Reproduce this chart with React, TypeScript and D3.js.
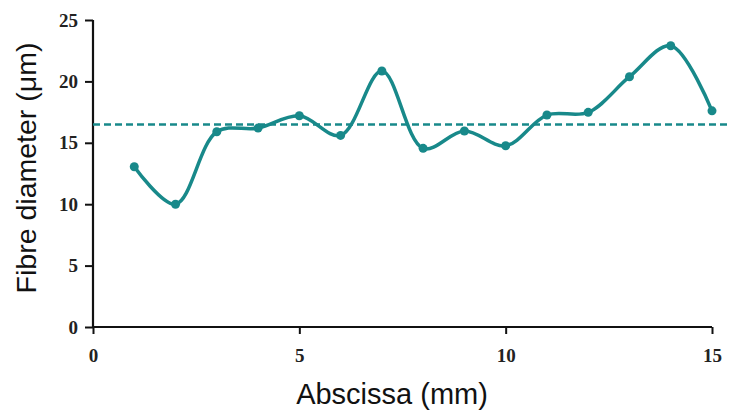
import React, { useEffect, useRef } from "react";
import * as d3 from "d3";

const xValues = [1, 2, 3, 4, 5, 6, 7, 8, 9, 10, 11, 12, 13, 14, 15];
const diameters = [13.05, 10.0, 15.9, 16.2, 17.2, 15.6, 20.85, 14.55, 15.96, 14.76, 17.26, 17.48, 20.38, 22.9, 17.6];
const meanValue = 16.5;
const xTicks = [0, 5, 10, 15];
const yTicks = [0, 5, 10, 15, 20, 25];

const W = 729;
const H = 412;
const COLOR = "#18898a";

export default function App() {
  const ref = useRef<SVGSVGElement>(null);
  useEffect(() => {
    const svg = d3.select(ref.current);
    svg.selectAll("*").remove();
    const x = d3.scaleLinear().domain([0, 15]).range([93, 712]);
    const y = d3.scaleLinear().domain([0, 25]).range([327, 20]);

    const gx = svg.append("g").attr("transform", `translate(0,${y(0)})`);
    gx.call(d3.axisBottom(x).tickValues(xTicks).tickSize(7).tickPadding(15).tickFormat(d3.format("d")) as any);
    const gy = svg.append("g").attr("transform", `translate(${x(0)},0)`);
    gy.call(d3.axisLeft(y).tickValues(yTicks).tickSize(8).tickPadding(7).tickFormat(d3.format("d")) as any);
    [gx, gy].forEach((g) => {
      g.select(".domain").attr("stroke", "#111").attr("stroke-width", 2.2).attr("d", (g === gx ? `M${x(0)},0H${x(15)}` : `M0,${y(0)}V${y(25)}`));
      g.selectAll(".tick line").attr("stroke", "#111").attr("stroke-width", 2);
      g.selectAll(".tick text")
        .attr("fill", "#222")
        .style("font-family", "'Liberation Serif', 'DejaVu Serif', serif")
        .style("font-weight", "bold")
        .style("font-size", "19px");
    });

    svg.append("line")
      .attr("x1", x(0)).attr("x2", W)
      .attr("y1", y(meanValue)).attr("y2", y(meanValue))
      .attr("stroke", COLOR).attr("stroke-width", 2.5)
      .attr("stroke-dasharray", "7,4");

    const pts = xValues.map((v, i) => [x(v), y(diameters[i])] as [number, number]);
    svg.append("path")
      .attr("d", d3.line().curve(d3.curveCatmullRom.alpha(0.5))(pts) as string)
      .attr("fill", "none").attr("stroke", COLOR).attr("stroke-width", 3.5);
    svg.selectAll("circle.pt").data(pts).enter().append("circle")
      .attr("cx", (d) => d[0]).attr("cy", (d) => d[1]).attr("r", 4.5).attr("fill", COLOR);

    svg.append("text")
      .attr("x", 392).attr("y", 404)
      .attr("text-anchor", "middle")
      .style("font-family", "'Liberation Sans', Arial, sans-serif")
      .style("font-size", "29px")
      .attr("fill", "#111")
      .text("Abscissa (mm)");
    svg.append("text")
      .attr("transform", `translate(36,${168}) rotate(-90)`)
      .attr("text-anchor", "middle")
      .style("font-family", "'Liberation Sans', Arial, sans-serif")
      .style("font-size", "28.5px")
      .attr("fill", "#111")
      .text("Fibre diameter (μm)");
  }, []);
  return (
    <svg ref={ref} width={W} height={H} style={{ position: "absolute", left: 0, top: 0, background: "#fff" }} />
  );
}
